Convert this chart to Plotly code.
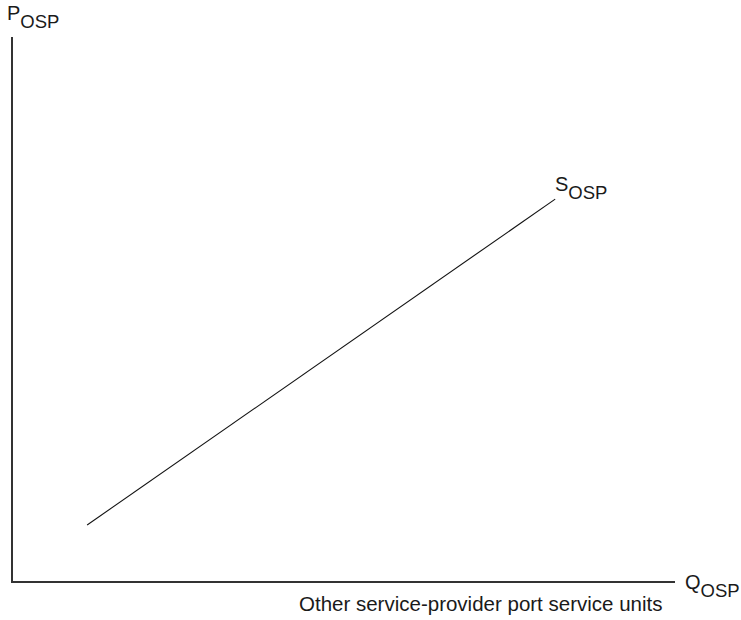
import plotly.graph_objects as go

# Supply curve of other service-provider port services
supply_q = [11.2, 81.9]
supply_p = [10.3, 70.2]

SUB_STYLE = "font-size:18.5px;baseline-shift:-7.5px"
sub = '<span style="%s">OSP</span>' % SUB_STYLE
x_label = "Q" + sub
y_label = "P" + sub
curve_label = "S" + sub
x_title = "Other service-provider port service units"

font_family = "Liberation Sans, Arial, sans-serif"
txt = "#1a1a1a"

fig = go.Figure()
fig.add_trace(go.Scatter(
    x=supply_q, y=supply_p, mode="lines",
    line=dict(color="#111111", width=1.1),
    hoverinfo="skip", showlegend=False,
))


def label(text, x, y, xref, yref, xshift, yshift, size, xanchor="left"):
    fig.add_annotation(x=x, y=y, xref=xref, yref=yref, text=text,
                       showarrow=False, xanchor=xanchor, yanchor="top",
                       xshift=xshift, yshift=yshift,
                       font=dict(size=size, color=txt, family=font_family))


label(curve_label, supply_q[-1], supply_p[-1], "x", "y", -2, 28, 20)
label(x_label, 1, 0, "paper", "paper", 8, 12, 20)
label(y_label, 0, 1, "paper", "paper", -8, 37, 20)
label(x_title, 1, 0, "paper", "paper", -11, -9, 20.5, xanchor="right")

axis_common = dict(showline=True, linecolor="#333333", linewidth=1.5,
                   showgrid=False, zeroline=False, showticklabels=False,
                   ticks="", mirror=False, fixedrange=True)
fig.update_xaxes(range=[0, 100], **axis_common)
fig.update_yaxes(range=[0, 100], **axis_common)

# plot area at x 13..675, y 37..581 in the window
fig.update_layout(
    width=741, height=620,
    margin=dict(l=13, r=66, t=37, b=39, autoexpand=False),
    paper_bgcolor="white", plot_bgcolor="white",
    font=dict(family=font_family),
)

fig.write_html("out.html", config={"displayModeBar": False},
               post_script="document.body.style.margin='0';document.body.style.overflow='hidden';")
